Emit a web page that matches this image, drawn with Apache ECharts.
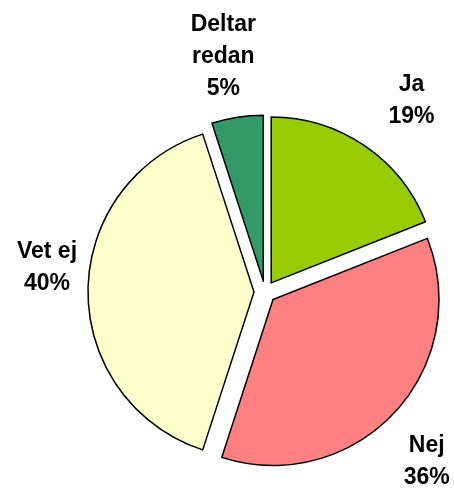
<!DOCTYPE html>
<html>
<head>
<meta charset="utf-8">
<script src="https://cdn.jsdelivr.net/npm/echarts@6/dist/echarts.min.js"></script>
<style>
  html, body { margin: 0; padding: 0; background: #fff; }
  #main { width: 454px; height: 488px; }
</style>
</head>
<body>
<div id="main"></div>
<script>
// svar (procent), medurs från klockan 12
var names = ["Ja", "Nej", "Vet ej", "Deltar\nredan"];
var values = [19, 36, 40, 5];
var colors = ["#99CC00", "#FF8080", "#FFFFCC", "#339966"];
// finjustering av etiketter (px): dx åt höger, dy nedåt
var labelDx = [11, -14, 23, -4];
var labelDy = [8, 5, -24, 3];

var myChart = echarts.init(document.getElementById("main"));

var sliceData = names.map(function (n, i) {
  return {
    name: n,
    value: values[i],
    selected: true,
    itemStyle: { color: colors[i] }
  };
});

// osynlig ring som bara bär etiketterna
var labelData = names.map(function (n, i) {
  var dx = labelDx[i], dy = labelDy[i];
  var fmt = "{b}\n{c}%";
  if (dy > 0) fmt = "{s|}\n" + fmt;
  if (dy < 0) fmt = fmt + "\n{s|}";
  return {
    name: n,
    value: values[i],
    label: {
      formatter: fmt,
      padding: [0, dx < 0 ? -2 * dx : 0, 0, dx > 0 ? 2 * dx : 0],
      rich: {
        s: { fontSize: 1, lineHeight: Math.abs(dy) * 2 }
      }
    }
  };
});

var option = {
  animation: false,
  series: [
    {
      type: "pie",
      center: [265, 292],
      radius: [0, 166],
      startAngle: 90,
      clockwise: true,
      selectedMode: "multiple",
      selectedOffset: 11,
      silent: true,
      itemStyle: { borderColor: "#000", borderWidth: 1.5 },
      label: { show: false },
      labelLine: { show: false },
      emphasis: { disabled: true },
      data: sliceData
    },
    {
      type: "pie",
      center: [265, 292],
      radius: [226, 250],
      startAngle: 90,
      clockwise: true,
      silent: true,
      itemStyle: { color: "rgba(0,0,0,0)", borderWidth: 0 },
      label: {
        show: true,
        position: "inside",
        color: "#000",
        fontFamily: "Liberation Sans",
        fontWeight: "bold",
        fontSize: 23,
        lineHeight: 32
      },
      labelLine: { show: false },
      emphasis: { disabled: true },
      data: labelData
    }
  ]
};

if (option && typeof option === "object") {
  myChart.setOption(option);
}
</script>
</body>
</html>
